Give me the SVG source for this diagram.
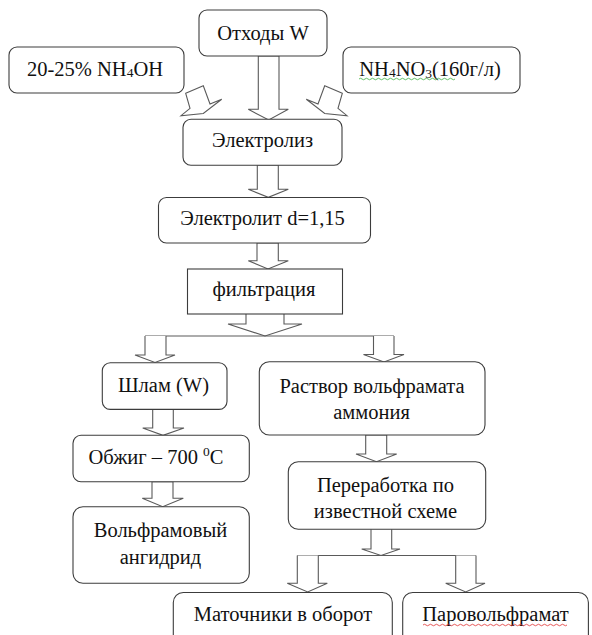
<svg xmlns="http://www.w3.org/2000/svg" width="592" height="635" viewBox="0 0 592 635">
<style>
  .box { fill: #ffffff; stroke: #3c3c3c; stroke-width: 1.1; }
  .arr { fill: #ffffff; stroke: #5a5a5a; stroke-width: 1.1; stroke-linejoin: miter; }
  .ln { fill: none; stroke: #5a5a5a; stroke-width: 1.1; }
  .t { font-family: "Liberation Serif", "Times New Roman", serif; font-size: 20.5px; fill: #111111; text-anchor: middle; }
  .sub { font-size: 13.5px; }
  .wavy-g { fill: none; stroke: #3cb043; stroke-width: 0.8; }
  .wavy-r { fill: none; stroke: #e03030; stroke-width: 0.8; }
</style>
<rect x="0" y="0" width="592" height="635" fill="#ffffff"/>

<g id="connectors">
  <polygon class="arr" points="258.3,56 279,56 279,109.3 288.3,109.3 268.7,120 248.3,109.3 258.3,109.3"/>
  <polygon class="arr" points="185.7,93.3 203.3,85.7 210,104 221.7,99.3 203.3,113.5 181,115.7 190,108.3"/>
  <polygon class="arr" points="342.3,93.3 324.7,85.7 318,104 306.3,99.3 324.7,113.5 347,115.7 338,108.3"/>
  <polygon class="arr" points="257.3,165 278.3,165 278.3,189.3 288.3,189.3 268.3,197.3 248.3,189.3 257.3,189.3"/>
  <polygon class="arr" points="257,243 278.3,243 278.3,260.7 288.3,260.7 268,269 248.3,260.7 257,260.7"/>
  <polyline class="arr" points="246,314 246,324 228,324 265,336 302,324 284,324 284,314"/>
  <line class="ln" x1="145" y1="336" x2="394" y2="336"/>
  <polyline class="arr" points="145,336 145,355 135,355 155,362.5 175,355 166,355 166,336"/>
  <polyline class="arr" points="373.5,336 373.5,354.5 363.5,354.5 384,362 404,354.5 394,354.5 394,336"/>
  <polygon class="arr" points="152.7,409.3 173.3,409.3 173.3,428 184,428 163,435.3 142.7,428 152.7,428"/>
  <polygon class="arr" points="152,481.7 173,481.7 173,498.3 183.3,498.3 162.7,506.7 142.3,498.3 152,498.3"/>
  <polygon class="arr" points="365.7,435 386.7,435 386.7,454 396.7,454 376.5,461.7 356,454 365.7,454"/>
  <polyline class="arr" points="371,529.3 371,549 361.7,549 381,555.5 400,549 391.7,549 391.7,529.3"/>
  <line class="ln" x1="297.3" y1="555.5" x2="476" y2="555.5"/>
  <polyline class="arr" points="297.3,555.5 297.3,583.3 287.3,583.3 307.7,592 327.3,583.3 318.3,583.3 318.3,555.5"/>
  <polyline class="arr" points="455.7,555.5 455.7,583.3 445.7,583.3 465.7,592 485,583.3 476,583.3 476,555.5"/>
</g>

<g id="n-othody">
  <rect class="box" x="199" y="10" width="128" height="46" rx="8"/>
  <text class="t" x="263" y="39.5">Отходы W</text>
</g>
<g id="n-nh4oh">
  <rect class="box" x="9" y="47" width="175" height="46" rx="8"/>
  <text class="t" x="95" y="75.5">20-25% NH<tspan class="sub" dy="1">4</tspan><tspan dy="-1">OH</tspan></text>
</g>
<g id="n-nh4no3">
  <rect class="box" x="343" y="47" width="177" height="46" rx="8"/>
  <text class="t" x="430" y="75.5">NH<tspan class="sub" dy="1">4</tspan><tspan dy="-1">NO</tspan><tspan class="sub" dy="2">3</tspan><tspan dy="-2">(160г/л)</tspan></text>
  <path class="wavy-g" d="M359,79 q1.5,-1.5 3,0 t3,0 t3,0 t3,0 t3,0 t3,0 t3,0 t3,0 t3,0 t3,0 t3,0 t3,0 t3,0 t3,0 t3,0 t3,0 t3,0 t3,0 t3,0 t3,0 t3,0 t3,0 t3,0 t3,0 t3,0 t3,0 t3,0 t3,0 t3,0 t3,0 t3,0 t3,0"/>
</g>
<g id="n-electroliz">
  <rect class="box" x="183" y="119.3" width="159" height="46" rx="8"/>
  <text class="t" x="262.5" y="147">Электролиз</text>
</g>
<g id="n-electrolit">
  <rect class="box" x="158.5" y="197.5" width="212" height="45.5" rx="8"/>
  <text class="t" x="262.5" y="225">Электролит d=1,15</text>
</g>
<g id="n-filtr">
  <rect class="box" x="187.5" y="269" width="155" height="45"/>
  <text class="t" x="264" y="295.5">фильтрация</text>
</g>
<g id="n-shlam">
  <rect class="box" x="102.3" y="362.7" width="124.7" height="46.7" rx="8"/>
  <text class="t" x="163.5" y="391.5">Шлам (W)</text>
</g>
<g id="n-rastvor">
  <rect class="box" x="259.3" y="361.7" width="225.7" height="73.3" rx="10"/>
  <text class="t" x="372" y="392.5">Раствор вольфрамата</text>
  <text class="t" x="371.5" y="418.5">аммония</text>
</g>
<g id="n-obzhig">
  <rect class="box" x="73" y="435.3" width="176.3" height="46.4" rx="8"/>
  <text class="t" x="156" y="463.5">Обжиг – 700 <tspan class="sub" dy="-8">0</tspan><tspan dy="8">C</tspan></text>
</g>
<g id="n-pererabotka">
  <rect class="box" x="288.3" y="461.7" width="197.4" height="67.6" rx="10"/>
  <text class="t" x="385.5" y="491.5">Переработка по</text>
  <text class="t" x="385.5" y="517.5">известной схеме</text>
</g>
<g id="n-volfram">
  <rect class="box" x="73" y="506.7" width="176.3" height="76.6" rx="10"/>
  <text class="t" x="160.5" y="536.5">Вольфрамовый</text>
  <text class="t" x="160.5" y="563.5">ангидрид</text>
</g>
<g id="n-matochniki">
  <rect class="box" x="173.3" y="592.5" width="219" height="60" rx="10"/>
  <text class="t" x="283" y="620.5">Маточники в оборот</text>
</g>
<g id="n-parovolframat">
  <rect class="box" x="402.7" y="592.5" width="185.7" height="60" rx="10"/>
  <text class="t" x="495.5" y="620.5">Паровольфрамат</text>
  <path class="wavy-r" d="M423,625 q1.5,-1.5 3,0 t3,0 t3,0 t3,0 t3,0 t3,0 t3,0 t3,0 t3,0 t3,0 t3,0 t3,0 t3,0 t3,0 t3,0 t3,0 t3,0 t3,0 t3,0 t3,0 t3,0 t3,0 t3,0 t3,0 t3,0 t3,0 t3,0 t3,0 t3,0 t3,0 t3,0 t3,0 t3,0 t3,0 t3,0 t3,0 t3,0 t3,0 t3,0 t3,0 t3,0 t3,0 t3,0 t3,0 t3,0 t3,0 t3,0 t3,0"/>
</g>
</svg>
